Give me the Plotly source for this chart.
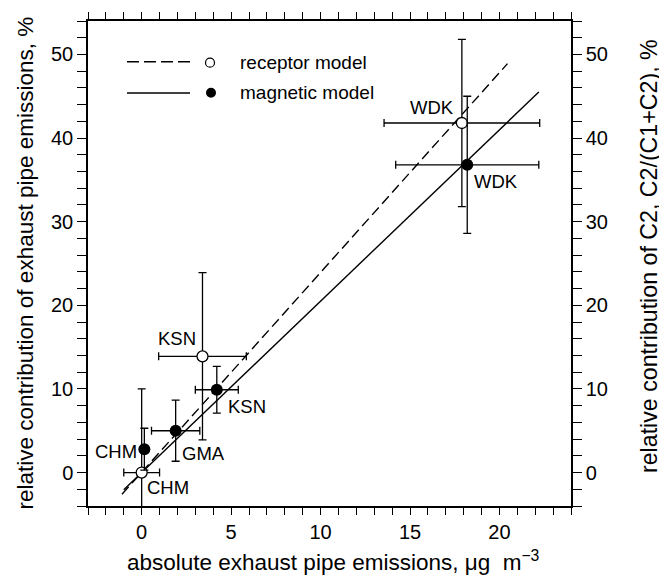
import plotly.graph_objects as go

# ---- data ----
sites_rec = ["CHM", "KSN", "WDK"]
x_rec = [0.0, 3.4, 17.9]
y_rec = [0.0, 13.9, 41.8]
xerr_rec = [1.0, 2.45, 4.35]
yerr_rec = [10.0, 10.0, 10.0]

sites_mag = ["CHM", "GMA", "KSN", "WDK"]
x_mag = [0.15, 1.9, 4.2, 18.2]
y_mag = [2.8, 5.0, 9.9, 36.8]
xerr_mag = [0.0, 1.35, 1.2, 4.0]
yerr_mag = [2.5, 3.65, 2.8, 8.2]

fit_rec_x = [-1.1, 20.45]
fit_rec_y = [-2.6, 48.9]
fit_mag_x = [-1.0, 22.2]
fit_mag_y = [-2.05, 45.5]

x_title = "absolute exhaust pipe emissions, μg  m<sup>−3</sup>"
y_title = "relative contribution of exhaust pipe emissions, %"
y2_title = "relative contribution of C2, C2/(C1+C2), %"
legend_labels = ["receptor model", "magnetic model"]

# label pixel offsets (dx, dy) relative to each point
lab_rec_off = [(26, -15), (-25, 18), (-30, 16)]
lab_mag_off = [(-28, -2), (28, -23), (30, -17), (29, -17)]

FONT = "Liberation Sans, Arial, Helvetica, sans-serif"
OFF = 8  # default body margin of the html page

fig = go.Figure()

fig.add_trace(go.Scatter(x=fit_rec_x, y=fit_rec_y, mode="lines",
                         line=dict(color="black", width=1.4, dash="10px,5px"),
                         showlegend=False, hoverinfo="skip"))
fig.add_trace(go.Scatter(x=fit_mag_x, y=fit_mag_y, mode="lines",
                         line=dict(color="black", width=1.4),
                         showlegend=False, hoverinfo="skip"))

fig.add_trace(go.Scatter(
    x=x_rec, y=y_rec, mode="markers",
    marker=dict(symbol="circle", size=11, color="white", line=dict(color="black", width=1.3)),
    error_x=dict(type="data", array=xerr_rec, color="black", thickness=1.3, width=4),
    error_y=dict(type="data", array=yerr_rec, color="black", thickness=1.3, width=4),
    showlegend=False))
fig.add_trace(go.Scatter(
    x=x_mag, y=y_mag, mode="markers",
    marker=dict(symbol="circle", size=12, color="black", line=dict(color="black", width=0)),
    error_x=dict(type="data", array=xerr_mag, color="black", thickness=1.3, width=4),
    error_y=dict(type="data", array=yerr_mag, color="black", thickness=1.3, width=4),
    showlegend=False))

# dummy trace so the right axis is drawn
fig.add_trace(go.Scatter(x=fit_mag_x, y=fit_mag_y, yaxis="y2", mode="lines",
                         line=dict(color="rgba(0,0,0,0)"), showlegend=False, hoverinfo="skip"))

annotations = []
for s, x, y, (dx, dy) in zip(sites_rec, x_rec, y_rec, lab_rec_off):
    annotations.append(dict(x=x, y=y, xref="x", yref="y", text=s, showarrow=False,
                            xshift=dx, yshift=dy, font=dict(size=18.5, color="black", family=FONT)))
for s, x, y, (dx, dy) in zip(sites_mag, x_mag, y_mag, lab_mag_off):
    annotations.append(dict(x=x, y=y, xref="x", yref="y", text=s, showarrow=False,
                            xshift=dx, yshift=dy, font=dict(size=18.5, color="black", family=FONT)))

# page-pixel -> paper helpers (plot area in page pixels)
L, R, T, B = 88.0, 571.0, 21.0, 506.0
def px(xp):
    return (xp - L) / (R - L)
def py(yp):
    return (B - yp) / (B - T)

TF = 22.5
annotations += [
    dict(x=px(333), y=py(561), xref="paper", yref="paper", xanchor="center", yanchor="middle",
         text=x_title, showarrow=False, font=dict(size=TF, color="black", family=FONT)),
    dict(x=px(25), y=py(263.5), xref="paper", yref="paper", xanchor="center", yanchor="middle",
         text=y_title, textangle=-90, showarrow=False,
         font=dict(size=TF, color="black", family=FONT)),
    dict(x=px(649), y=py(256), xref="paper", yref="paper", xanchor="center", yanchor="middle",
         text=y2_title, textangle=-90, showarrow=False,
         font=dict(size=23.2, color="black", family=FONT)),
]

# legend (drawn manually)
annotations.append(dict(x=px(238), y=py(62.5), xref="paper", yref="paper", xanchor="left",
                        yanchor="middle", text=legend_labels[0], showarrow=False,
                        font=dict(size=19, color="black", family=FONT)))
annotations.append(dict(x=px(238), y=py(92.5), xref="paper", yref="paper", xanchor="left",
                        yanchor="middle", text=legend_labels[1], showarrow=False,
                        font=dict(size=19, color="black", family=FONT)))

shapes = [
    dict(type="line", xref="paper", yref="paper", x0=px(127), x1=px(190), y0=py(61.7), y1=py(61.7),
         line=dict(color="black", width=1.4, dash="12px,5px")),
    dict(type="line", xref="paper", yref="paper", x0=px(127), x1=px(190), y0=py(93), y1=py(93),
         line=dict(color="black", width=1.4)),
    dict(type="circle", xref="paper", yref="paper", xsizemode="pixel", ysizemode="pixel",
         xanchor=px(210), yanchor=py(62.7), x0=-4.5, x1=4.5, y0=-4.5, y1=4.5,
         line=dict(color="black", width=1.2), fillcolor="white"),
    dict(type="circle", xref="paper", yref="paper", xsizemode="pixel", ysizemode="pixel",
         xanchor=px(211), yanchor=py(92.7), x0=-5, x1=5, y0=-5, y1=5,
         line=dict(color="black", width=0), fillcolor="black"),
]

tickfont = dict(size=20, color="black", family=FONT)

fig.update_layout(
    width=667 - OFF, height=578 - OFF,
    margin=dict(l=88 - OFF, r=96, t=21 - OFF, b=72),
    paper_bgcolor="white", plot_bgcolor="white",
    font=dict(family=FONT, color="black"),
    annotations=annotations, shapes=shapes,
    xaxis=dict(range=[-3, 24], tick0=0, dtick=5, ticks="outside", ticklen=7, tickwidth=1.3,
               tickcolor="black", showline=True, linecolor="black", linewidth=1.5,
               mirror="ticks", showgrid=False, zeroline=False, tickfont=tickfont,
               automargin=False,
               minor=dict(tick0=0, dtick=1, ticks="outside", ticklen=7, tickwidth=1.3,
                          tickcolor="black", showgrid=False)),
    yaxis=dict(range=[-4, 54], tick0=0, dtick=10, ticks="outside", ticklen=9, tickwidth=1.3,
               tickcolor="black", showline=True, linecolor="black", linewidth=1.5,
               mirror=True, showgrid=False, zeroline=False, tickfont=tickfont,
               automargin=False,
               minor=dict(tick0=0, dtick=2, ticks="outside", ticklen=9, tickwidth=1.3,
                          tickcolor="black", showgrid=False)),
    yaxis2=dict(range=[-4, 54], overlaying="y", side="right", tick0=0, dtick=10,
                ticks="outside", ticklen=9, tickwidth=1.3, tickcolor="black",
                showline=True, linecolor="black", linewidth=1.5, showgrid=False,
                zeroline=False, tickfont=tickfont, automargin=False,
                minor=dict(tick0=0, dtick=2, ticks="outside", ticklen=9, tickwidth=1.3,
                           tickcolor="black", showgrid=False)),
)

fig.write_html("out.html")
